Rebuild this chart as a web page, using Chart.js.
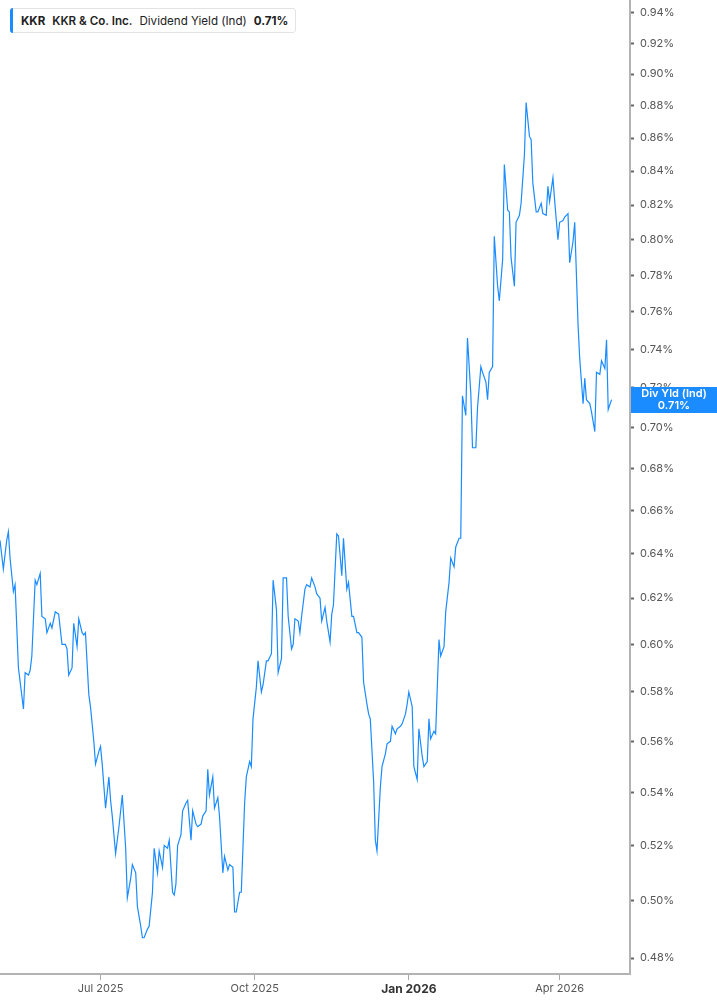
<!DOCTYPE html>
<html>
<head>
<meta charset="utf-8">
<script src="https://cdn.jsdelivr.net/npm/chart.js@4.4.1/dist/chart.umd.min.js"></script>
<style>
  html, body { margin: 0; padding: 0; background: #fff; }
  #wrap { position: relative; width: 717px; height: 1005px; }
  #chart { display: block; }
  #legend {
    position: absolute; left: 10px; top: 8px; height: 25px;
    box-sizing: border-box; padding: 0 7px 0 10px;
    border: 1px solid #e3e3e3; border-radius: 3px; background: #fff;
    font: 11.6px Inter, "Noto Sans", sans-serif; color: #222;
    display: flex; align-items: center; white-space: nowrap;
  }
  #legend:before {
    content: ""; position: absolute; left: -1px; top: -1px; bottom: -1px; width: 3px;
    background: #1a8cff; border-radius: 3px 0 0 3px;
  }
  #legend span { margin-right: 7px; }
  #legend span:last-child { margin-right: 0; }
</style>
</head>
<body>
<div id="wrap">
  <canvas id="chart" width="717" height="1005"></canvas>
  <div id="legend">
    <span style="font-weight:700">KKR</span>
    <span style="font-weight:600">KKR &amp; Co. Inc.</span>
    <span>Dividend Yield (Ind)</span>
    <span style="font-weight:700">0.71%</span>
  </div>
</div>
<script>
// KKR dividend yield (indicated), in percent
var dates = [
  '2025-05-02','2025-05-04','2025-05-06','2025-05-07','2025-05-08','2025-05-10','2025-05-11','2025-05-13','2025-05-16','2025-05-17',
  '2025-05-19','2025-05-20','2025-05-21','2025-05-23','2025-05-24','2025-05-26','2025-05-27','2025-05-29','2025-05-30',
  '2025-06-01','2025-06-02','2025-06-04','2025-06-06','2025-06-08','2025-06-10','2025-06-11','2025-06-12','2025-06-14','2025-06-15',
  '2025-06-17','2025-06-18','2025-06-20','2025-06-21','2025-06-22','2025-06-24','2025-06-25','2025-06-27','2025-06-28','2025-06-30',
  '2025-07-01','2025-07-02','2025-07-04','2025-07-06','2025-07-07','2025-07-08','2025-07-10','2025-07-12','2025-07-14','2025-07-16',
  '2025-07-17','2025-07-19','2025-07-20','2025-07-22','2025-07-23','2025-07-25','2025-07-26','2025-07-27','2025-07-29','2025-07-30',
  '2025-08-01','2025-08-02','2025-08-04','2025-08-05','2025-08-07','2025-08-08','2025-08-10','2025-08-11','2025-08-13','2025-08-14',
  '2025-08-15','2025-08-16','2025-08-18','2025-08-19','2025-08-21','2025-08-22','2025-08-24','2025-08-25','2025-08-27','2025-08-28',
  '2025-08-30','2025-08-31',
  '2025-09-02','2025-09-03','2025-09-04','2025-09-06','2025-09-07','2025-09-09','2025-09-10','2025-09-12','2025-09-13','2025-09-15',
  '2025-09-16','2025-09-18','2025-09-19','2025-09-20','2025-09-22','2025-09-23','2025-09-25','2025-09-26','2025-09-28','2025-09-29',
  '2025-09-30',
  '2025-10-02','2025-10-03','2025-10-05','2025-10-06','2025-10-08','2025-10-09','2025-10-11','2025-10-12','2025-10-14','2025-10-15',
  '2025-10-17','2025-10-18','2025-10-20','2025-10-21','2025-10-23','2025-10-24','2025-10-25','2025-10-27','2025-10-28','2025-10-29',
  '2025-10-31',
  '2025-11-01','2025-11-03','2025-11-04','2025-11-06','2025-11-07','2025-11-09','2025-11-10','2025-11-12','2025-11-13','2025-11-15',
  '2025-11-16','2025-11-17','2025-11-19','2025-11-20','2025-11-22','2025-11-23','2025-11-25','2025-11-26','2025-11-28','2025-11-29',
  '2025-12-01','2025-12-02','2025-12-04','2025-12-05','2025-12-07','2025-12-08','2025-12-09','2025-12-11','2025-12-12','2025-12-13',
  '2025-12-15','2025-12-16','2025-12-18','2025-12-19','2025-12-21','2025-12-22','2025-12-24','2025-12-25','2025-12-27','2025-12-28',
  '2025-12-30','2025-12-31',
  '2026-01-01','2026-01-03','2026-01-04','2026-01-06','2026-01-07','2026-01-09','2026-01-10','2026-01-12','2026-01-13','2026-01-14',
  '2026-01-16','2026-01-17','2026-01-19','2026-01-20','2026-01-22','2026-01-23','2026-01-25','2026-01-26','2026-01-28','2026-01-29',
  '2026-01-31',
  '2026-02-01','2026-02-02','2026-02-04','2026-02-05','2026-02-07','2026-02-08','2026-02-10','2026-02-11','2026-02-13','2026-02-14',
  '2026-02-16','2026-02-17','2026-02-18','2026-02-20','2026-02-21','2026-02-23','2026-02-24','2026-02-26','2026-02-27',
  '2026-03-01','2026-03-02','2026-03-03','2026-03-05','2026-03-06','2026-03-08','2026-03-09','2026-03-11','2026-03-12','2026-03-14',
  '2026-03-15','2026-03-16','2026-03-18','2026-03-19','2026-03-21','2026-03-22','2026-03-24','2026-03-25','2026-03-26','2026-03-28',
  '2026-03-29','2026-03-31',
  '2026-04-01','2026-04-03','2026-04-04','2026-04-06','2026-04-07','2026-04-09','2026-04-10','2026-04-12','2026-04-13','2026-04-15',
  '2026-04-16','2026-04-17','2026-04-19','2026-04-20','2026-04-22','2026-04-23','2026-04-25','2026-04-26','2026-04-28','2026-04-29',
  '2026-04-30','2026-05-02'
];

var yields = [
  0.646,0.633,0.646,0.650,0.638,0.623,0.626,0.590,0.573,0.588,
  0.587,0.589,0.595,0.628,0.626,0.631,0.612,0.611,0.605,
  0.609,0.607,0.614,0.613,0.600,0.600,0.598,0.587,0.590,0.609,
  0.599,0.611,0.605,0.604,0.605,0.579,0.574,0.560,0.551,0.556,
  0.558,0.551,0.534,0.546,0.537,0.531,0.517,0.527,0.539,0.519,
  0.501,0.508,0.513,0.510,0.498,0.491,0.487,0.487,0.490,0.491,
  0.503,0.519,0.510,0.518,0.512,0.520,0.519,0.522,0.503,0.502,
  0.506,0.520,0.524,0.533,0.536,0.537,0.522,0.533,0.528,0.527,
  0.528,0.531,
  0.533,0.549,0.539,0.546,0.534,0.538,0.531,0.510,0.516,0.511,
  0.513,0.512,0.496,0.496,0.503,0.503,0.536,0.546,0.552,0.550,
  0.569,
  0.582,0.593,0.580,0.583,0.593,0.593,0.596,0.628,0.615,0.588,
  0.594,0.629,0.629,0.612,0.598,0.600,0.611,0.610,0.605,0.612,
  0.624,
  0.626,0.625,0.629,0.625,0.622,0.620,0.610,0.616,0.610,0.601,
  0.613,0.617,0.649,0.648,0.630,0.647,0.624,0.627,0.612,0.612,
  0.605,0.605,0.603,0.584,0.575,0.571,0.569,0.544,0.522,0.518,
  0.542,0.550,0.555,0.559,0.560,0.566,0.563,0.565,0.566,0.567,
  0.571,0.575,
  0.580,0.574,0.550,0.545,0.565,0.554,0.550,0.552,0.569,0.561,
  0.564,0.563,0.602,0.595,0.599,0.614,0.627,0.638,0.634,0.643,
  0.647,
  0.647,0.716,0.706,0.746,0.717,0.690,0.690,0.710,0.731,0.728,
  0.723,0.714,0.728,0.731,0.802,0.774,0.766,0.789,0.844,
  0.817,0.816,0.790,0.774,0.810,0.814,0.821,0.850,0.882,0.861,
  0.859,0.833,0.816,0.816,0.821,0.815,0.814,0.831,0.822,0.836,
  0.823,0.800,
  0.810,0.811,0.813,0.815,0.787,0.799,0.810,0.753,0.735,0.712,
  0.725,0.714,0.712,0.708,0.698,0.728,0.727,0.734,0.730,0.745,
  0.709,0.714
];

var xTickDates = ['2025-07-01', '2025-10-01', '2026-01-01', '2026-04-01'];
var xTickLabels = ['Jul 2025', 'Oct 2025', 'Jan 2026', 'Apr 2026'];
var yTicks = [0.48,0.50,0.52,0.54,0.56,0.58,0.60,0.62,0.64,0.66,0.68,0.70,0.72,0.74,0.76,0.78,0.80,0.82,0.84,0.86,0.88,0.90,0.92,0.94];

var xStart = '2025-05-02', xEnd = '2026-05-13';
var lineColor = '#1a8cff';

function dayNum(s) {
    return Date.UTC(+s.slice(0, 4), +s.slice(5, 7) - 1, +s.slice(8, 10)) / 86400000;
}

var points = [];
for (var i = 0; i < dates.length; i++) {
    points.push({ x: dayNum(dates[i]), y: yields[i] });
}

// blue box with the last value on the right axis
var lastValueTag = {
    id: 'lastValueTag',
    afterDraw: function (chart) {
        var ctx = chart.ctx, area = chart.chartArea, yScale = chart.scales.y;
        var last = yields[yields.length - 1];
        var yc = Math.round(yScale.getPixelForValue(last));
        var left = area.right + 1, w = chart.width - left, h = 26;
        ctx.save();
        ctx.fillStyle = lineColor;
        ctx.fillRect(left, yc - h / 2, w, h);
        ctx.fillStyle = '#fff';
        ctx.textAlign = 'center';
        ctx.textBaseline = 'middle';
        ctx.font = '600 11px Inter, "Noto Sans", sans-serif';
        ctx.fillText('Div Yld (Ind)', left + w / 2, yc - 6);
        ctx.fillText(last.toFixed(2) + '%', left + w / 2, yc + 6);
        ctx.restore();
    }
};

var config = {
    type: 'line',
    data: {
        datasets: [{
            label: 'Dividend Yield (Ind)',
            data: points,
            borderColor: lineColor,
            borderWidth: 1.2,
            pointRadius: 0,
            fill: false,
            tension: 0
        }]
    },
    options: {
        responsive: false,
        animation: false,
        layout: { padding: 0 },
        plugins: {
            legend: { display: false },
            tooltip: { enabled: false }
        },
        scales: {
            x: {
                type: 'linear',
                position: 'bottom',
                min: dayNum(xStart),
                max: dayNum(xEnd),
                afterBuildTicks: function (scale) {
                    scale.ticks = xTickDates.map(function (d) { return { value: dayNum(d) }; });
                },
                afterFit: function (scale) {
                    scale.height = 31;
                    scale.paddingLeft = 0;
                    scale.paddingRight = 0;
                },
                grid: {
                    drawOnChartArea: false,
                    drawTicks: true,
                    tickLength: 6,
                    color: '#aaa'
                },
                border: { display: true, color: '#b3b3b3', width: 2 },
                ticks: {
                    autoSkip: false,
                    maxRotation: 0,
                    padding: 2,
                    color: function (c) { return c.index === 2 ? '#333' : '#555'; },
                    font: function (c) {
                        return { family: 'Inter, "Noto Sans", sans-serif', size: c.index === 2 ? 12 : 11, weight: c.index === 2 ? '700' : '400' };
                    },
                    callback: function (v, idx) { return xTickLabels[idx]; }
                }
            },
            y: {
                type: 'logarithmic',
                position: 'right',
                min: 0.4746,
                max: 0.9487,
                afterBuildTicks: function (scale) {
                    scale.ticks = yTicks.map(function (v) { return { value: v }; });
                },
                afterFit: function (scale) {
                    scale.width = 87;
                    scale.paddingTop = 0;
                    scale.paddingBottom = 0;
                },
                grid: {
                    drawOnChartArea: false,
                    drawTicks: true,
                    tickLength: 4,
                    tickWidth: 2,
                    color: '#666'
                },
                border: { display: true, color: '#b3b3b3', width: 2 },
                ticks: {
                    padding: 6,
                    color: '#555',
                    font: { family: 'Inter, "Noto Sans", sans-serif', size: 11 },
                    callback: function (v) { return v.toFixed(2) + '%'; }
                }
            }
        }
    },
    plugins: [lastValueTag]
};

var chart = new Chart(document.getElementById('chart').getContext('2d'), config);
</script>
</body>
</html>
